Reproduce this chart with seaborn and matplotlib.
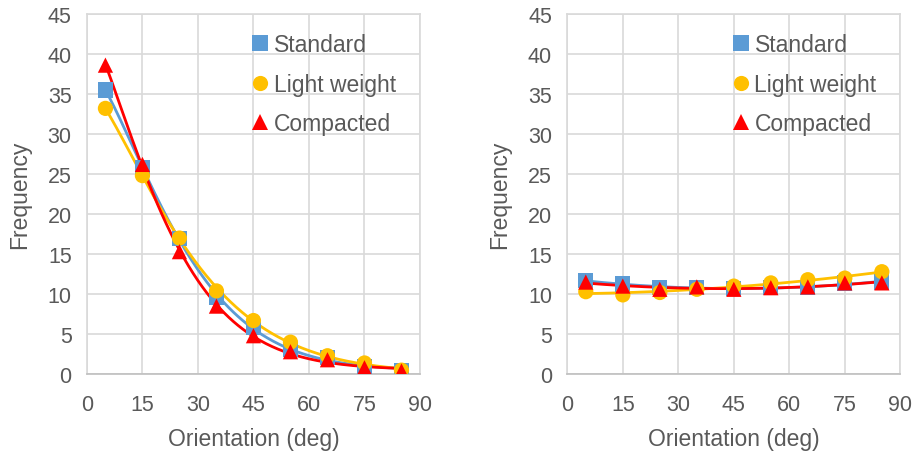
import numpy as np
import pandas as pd
import matplotlib
matplotlib.use('Agg')
import matplotlib.pyplot as plt
import seaborn as sns

# orientation bins (deg)
angles = [5, 15, 25, 35, 45, 55, 65, 75, 85]

# left panel
left_standard = [35.5, 25.8, 16.9, 9.6, 5.8, 3.1, 2.1, 1.0, 0.5]
left_light = [33.2, 24.8, 17.0, 10.4, 6.7, 4.0, 2.3, 1.4, 0.5]
left_compacted = [38.6, 26.2, 15.3, 8.5, 4.8, 2.8, 1.8, 0.8, 0.4]

# right panel
right_standard = [11.7, 11.25, 10.8, 10.8, 10.7, 10.8, 10.8, 11.4, 11.5]
right_light = [10.3, 9.9, 10.2, 10.6, 11.0, 11.4, 11.8, 12.0, 12.8]
right_compacted = [11.5, 11.0, 10.6, 10.9, 10.6, 10.8, 10.9, 11.4, 11.4]

series = ['Standard', 'Light weight', 'Compacted']
colors = {'Standard': '#5B9BD5', 'Light weight': '#FFC000', 'Compacted': '#FF0000'}
markers = {'Standard': 's', 'Light weight': 'o', 'Compacted': '^'}
x_ticks = [0, 15, 30, 45, 60, 75, 90]
y_ticks = [0, 5, 10, 15, 20, 25, 30, 35, 40, 45]

sns.set_style('white')
plt.rcParams['font.family'] = ['Liberation Sans', 'DejaVu Sans']
TXT = '#595959'


def decay_fit(x, y):
    # a*exp(-(x/s)^p) + c, grid search on s, p
    x = np.asarray(x, float)
    y = np.asarray(y, float)
    best = None
    for s in np.linspace(5, 60, 111):
        for p in np.linspace(0.8, 2.5, 69):
            g = np.exp(-(x / s) ** p)
            A = np.column_stack([g, np.ones_like(g)])
            coef, *_ = np.linalg.lstsq(A, y, rcond=None)
            err = np.sum((A @ coef - y) ** 2)
            if best is None or err < best[0]:
                best = (err, s, p, coef)
    _, s, p, coef = best
    xs = np.linspace(x.min(), x.max(), 200)
    return xs, coef[0] * np.exp(-(xs / s) ** p) + coef[1]


def poly_fit(x, y):
    c = np.polyfit(x, y, 2)
    xs = np.linspace(min(x), max(x), 200)
    return xs, np.polyval(c, xs)


def make_frames(data, fitter):
    pts, lines = [], []
    for name, vals in data.items():
        pts.append(pd.DataFrame({'angle': angles, 'freq': vals, 'series': name}))
        xs, ys = fitter(angles, vals)
        lines.append(pd.DataFrame({'angle': xs, 'freq': ys, 'series': name}))
    return pd.concat(pts), pd.concat(lines)


fig = plt.figure(figsize=(9.15, 4.52), dpi=100)
ax1 = fig.add_axes([0.095, 0.170, 0.364, 0.797])
ax2 = fig.add_axes([0.620, 0.170, 0.364, 0.797])

panels = [
    (ax1, {'Standard': left_standard, 'Light weight': left_light, 'Compacted': left_compacted}, decay_fit),
    (ax2, {'Standard': right_standard, 'Light weight': right_light, 'Compacted': right_compacted}, poly_fit),
]

for ax, data, fitter in panels:
    pts, lines = make_frames(data, fitter)
    sns.lineplot(data=lines, x='angle', y='freq', hue='series', palette=colors,
                 hue_order=series, linewidth=2, legend=False, ax=ax, sort=False,
                 estimator=None, zorder=2)
    sns.scatterplot(data=pts, x='angle', y='freq', hue='series', style='series',
                    palette=colors, markers=markers, hue_order=series, style_order=series,
                    s=120, linewidth=0, ax=ax, zorder=3)
    ax.set_xlim(0, 90)
    ax.set_ylim(0, 45)
    ax.set_xticks(x_ticks)
    ax.set_yticks(y_ticks)
    ax.grid(True, color='#D9D9D9', linewidth=1.2)
    ax.set_axisbelow(True)
    for sp in ax.spines.values():
        sp.set_color('#D9D9D9')
        sp.set_linewidth(1.2)
    ax.spines['bottom'].set_color('#BFBFBF')
    ax.tick_params(axis='both', length=0, labelsize=15.5, colors=TXT)
    ax.tick_params(axis='y', pad=11)
    ax.tick_params(axis='x', pad=14)
    ax.set_xlabel('Orientation (deg)', fontsize=16.5, color=TXT, labelpad=9)
    ax.set_ylabel('Frequency', fontsize=16.5, color=TXT, labelpad=12)
    leg = ax.legend(loc='upper right', bbox_to_anchor=(0.97, 0.985), frameon=False,
                    fontsize=16.5, handletextpad=0.0, labelspacing=0.72,
                    handlelength=1.2, borderaxespad=0.2, markerscale=1.0)
    for t in leg.get_texts():
        t.set_color(TXT)

fig.savefig('out.png', dpi=100)
